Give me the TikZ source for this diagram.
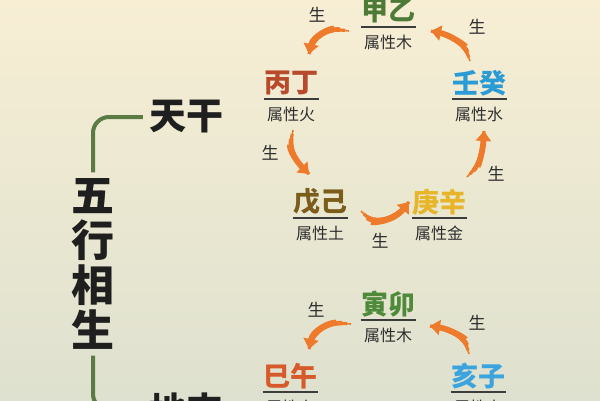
\documentclass[tikz,border=0pt]{standalone}
\usepackage{fontspec}
\setmainfont{Noto Sans CJK SC}
\usetikzlibrary{arrows.meta,calc}
\definecolor{bgtop}{HTML}{F7EED4}
\definecolor{bgmid}{HTML}{EEEDD0}
\definecolor{bgbot}{HTML}{DEE1CF}
\definecolor{cJY}{HTML}{4D7B37}
\definecolor{cBD}{HTML}{B84A2C}
\definecolor{cRG}{HTML}{2B9BD6}
\definecolor{cWJ}{HTML}{7B5C1A}
\definecolor{cGX}{HTML}{E6B52A}
\definecolor{cYM}{HTML}{4F8A3A}
\definecolor{cSW}{HTML}{D65A2A}
\definecolor{cHZ}{HTML}{3BA3DE}
\definecolor{arrc}{HTML}{EE7B2C}
\definecolor{txt}{HTML}{2E2E2E}
\definecolor{ulc}{HTML}{3C3C3C}
\definecolor{brk}{HTML}{5B7B45}
\newcommand\taperarrow[4]{%
  \draw[arrc, line width=1.6pt] (#1) .. controls (#2) and (#3) .. (#4);
  \draw[arrc, line width=3.2pt, shorten <=4pt] (#1) .. controls (#2) and (#3) .. (#4);
  \draw[arrc, line width=4.6pt, shorten <=9pt, shorten >=3pt] (#1) .. controls (#2) and (#3) .. (#4);
  \draw[arrc, line width=5.8pt, shorten <=15pt, -{Triangle[width=15pt,length=10pt]}] (#1) .. controls (#2) and (#3) .. (#4);
}
\begin{document}
\begin{tikzpicture}[x=1pt,y=-1pt,
  big/.style={font=\fontsize{27}{27}\selectfont\bfseries, inner sep=0pt},
  attr/.style={font=\fontsize{16}{16}\selectfont, text=txt, inner sep=0pt},
  sheng/.style={font=\fontsize{17}{17}\selectfont, text=txt, inner sep=0pt},
  head/.style={font=\fontsize{37}{37}\selectfont\bfseries, text=black!88, inner sep=6pt},
  ulstyle/.style={draw=ulc, line width=1.8pt},
  brack/.style={draw=brk, line width=4pt, rounded corners=16pt}]
\useasboundingbox (0,0) rectangle (600,400);
\shade[top color=bgtop, middle color=bgmid, bottom color=bgbot] (0,0) rectangle (600,400);

% left structure
\node[head] (tg) at (186,117) {天干};
\node[head] (dz) at (186,410) {地支};
\node[font=\fontsize{43}{45}\selectfont\bfseries, text=black!88, align=center, inner sep=6pt] (wx) at (93,264) {五\\行\\相\\生};
\draw[brack] (tg.west) -| (wx.north);
\draw[brack] (wx.south) |- (dz.west);

% tiangan
\node[big, text=cJY] (jy) at (388,11) {甲乙};
\node[attr] (jya) at (388,42) {属性木};
\node[big, text=cBD] (bd) at (291,83) {丙丁};
\node[attr] (bda) at (291,114) {属性火};
\node[big, text=cRG] (rg) at (479,83) {壬癸};
\node[attr] (rga) at (479,114) {属性水};
\node[big, text=cWJ] (wj) at (320,202) {戊己};
\node[attr] (wja) at (320,233) {属性土};
\node[big, text=cGX] (gx) at (439,202) {庚辛};
\node[attr] (gxa) at (439,233) {属性金};
% dizhi
\node[big, text=cYM] (ym) at (388,304) {寅卯};
\node[attr] (yma) at (388,335) {属性木};
\node[big, text=cSW] (sw) at (290,376) {巳午};
\node[attr] (swa) at (290,407) {属性火};
\node[big, text=cHZ] (hz) at (478,376) {亥子};
\node[attr] (hza) at (478,407) {属性水};

\foreach \n in {jy,bd,rg,wj,gx,ym,sw,hz}
  \draw[ulstyle] ($(\n.center)+(-27.5,16)$) -- ++(55,0);

% sheng labels
\node[sheng] (s1) at (317,15) {生};
\node[sheng] (s2) at (477,27) {生};
\node[sheng] (s3) at (270,153) {生};
\node[sheng] (s4) at (496,174) {生};
\node[sheng] (s5) at (380,241) {生};
\node[sheng] (s6) at (316,310) {生};
\node[sheng] (s7) at (477,323) {生};

% arrows
\coordinate (a1s) at (349,31);  \coordinate (a1e) at (309,54);
\coordinate (a2s) at (470,61);  \coordinate (a2e) at (431,31);
\coordinate (a3s) at (293,130); \coordinate (a3e) at (309,174);
\coordinate (a4s) at (361,211); \coordinate (a4e) at (409,202);
\coordinate (a5s) at (467,177); \coordinate (a5e) at (484,131);
\coordinate (a6s) at (351,324); \coordinate (a6e) at (309,349);
\coordinate (a7s) at (469,354); \coordinate (a7e) at (430,326);
\taperarrow{a1s}{330,28}{313,36}{a1e}
\taperarrow{a2s}{465,45}{450,35}{a2e}
\taperarrow{a3s}{289,150}{297,162}{a3e}
\taperarrow{a4s}{372,223}{393,222}{a4e}
\taperarrow{a5s}{479,165}{483,150}{a5e}
\taperarrow{a6s}{330,322}{313,330}{a6e}
\taperarrow{a7s}{465,338}{450,329}{a7e}
\end{tikzpicture}
\end{document}
